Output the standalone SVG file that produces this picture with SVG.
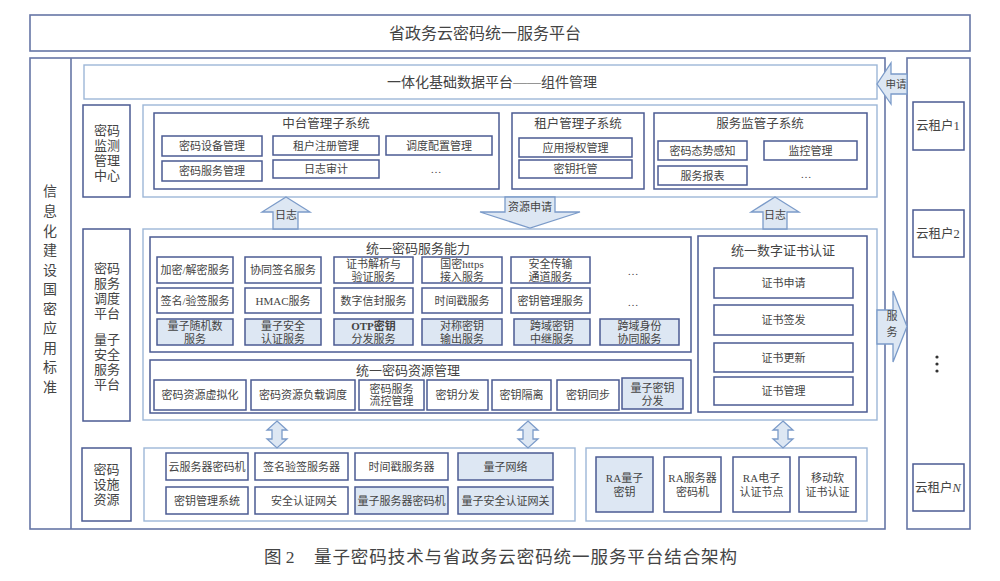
<svg xmlns="http://www.w3.org/2000/svg" width="1000" height="581" viewBox="0 0 1000 581">
<style>
.outer{fill:#fff;stroke:#6676a6;stroke-width:1.6}
.lt{fill:#fff;stroke:#9db7d7;stroke-width:1.4}
.dk{fill:#fff;stroke:#4b5b93;stroke-width:1.5}
.sh{fill:#dde7f3;stroke:#4b5b93;stroke-width:1.5}
.arr{fill:#dde7f3;stroke:#7b9bc9;stroke-width:1.3}
text{font-family:"Liberation Serif","Noto Sans CJK SC",serif;fill:#444;text-anchor:middle;dominant-baseline:central}
.s{font-size:11px}
.m{font-size:12.5px}
.l{font-size:13px}
</style>
<rect width="1000" height="581" fill="#fff"/>

<g id="title"><rect class="outer" x="30" y="15" width="940" height="36"/><text x="485" y="33" style="font-size:16px">省政务云密码统一服务平台</text></g>

<g id="main-frame"><rect class="outer" x="30" y="58" width="855" height="471"/><line x1="71" y1="58" x2="71" y2="529" stroke="#6676a6" stroke-width="1.6"/>
<text x="50" style="font-size:14px"><tspan x="50" y="191">信</tspan><tspan x="50" y="211">息</tspan><tspan x="50" y="231">化</tspan><tspan x="50" y="250">建</tspan><tspan x="50" y="270">设</tspan><tspan x="50" y="289">国</tspan><tspan x="50" y="309">密</tspan><tspan x="50" y="328">应</tspan><tspan x="50" y="348">用</tspan><tspan x="50" y="367">标</tspan><tspan x="50" y="387">准</tspan></text></g>

<g id="tenants"><rect class="outer" x="907" y="58" width="63" height="471"/>
<g id="t1"><rect class="dk" x="913" y="102" width="51" height="48"/><text class="m" x="938" y="126">云租户1</text></g>
<g id="t2"><rect class="dk" x="913" y="210" width="51" height="47"/><text class="m" x="938" y="234">云租户2</text></g>
<g id="tdots"><circle cx="937" cy="357" r="1.6" fill="#333"/><circle cx="937" cy="364" r="1.6" fill="#333"/><circle cx="937" cy="371" r="1.6" fill="#333"/></g>
<g id="tn"><rect class="dk" x="913" y="464" width="51" height="47"/><text class="m" x="938" y="488">云租户<tspan font-style="italic">N</tspan></text></g></g>

<g id="platform"><rect class="lt" x="84" y="65" width="793" height="34"/><text x="492" y="82" style="font-size:14px">一体化基础数据平台——组件管理</text></g>

<g id="mgmt-label"><rect class="dk" x="83" y="105" width="47" height="92"/><text class="l"><tspan x="107" y="130">密码</tspan><tspan x="107" y="145">监测</tspan><tspan x="107" y="160">管理</tspan><tspan x="107" y="175">中心</tspan></text></g>
<g id="mgmt"><rect class="lt" x="143" y="105" width="734" height="92"/>
<g id="zt"><rect class="dk" x="154" y="113" width="345" height="76"/><text class="m" x="326" y="124">中台管理子系统</text>
<rect class="dk" x="162" y="136" width="100" height="20"/><text class="s" x="212" y="146">密码设备管理</text>
<rect class="dk" x="273" y="136" width="106" height="19"/><text class="s" x="326" y="145.5">租户注册管理</text>
<rect class="dk" x="386" y="136" width="106" height="19"/><text class="s" x="439" y="145.5">调度配置管理</text>
<rect class="dk" x="162" y="161" width="100" height="20"/><text class="s" x="212" y="171">密码服务管理</text>
<rect class="dk" x="273" y="160" width="106" height="18"/><text class="s" x="326" y="169">日志审计</text>
<text class="s" x="436" y="169">…</text></g>
<g id="zh"><rect class="dk" x="512" y="113" width="132" height="76"/><text class="m" x="578" y="124">租户管理子系统</text>
<rect class="dk" x="519" y="138" width="113" height="19"/><text class="s" x="575.5" y="147.5">应用授权管理</text>
<rect class="dk" x="519" y="160" width="113" height="18"/><text class="s" x="575.5" y="169">密钥托管</text></g>
<g id="fw"><rect class="dk" x="654" y="113" width="213" height="76"/><text class="m" x="760" y="124">服务监管子系统</text>
<rect class="dk" x="658" y="141" width="89" height="19"/><text class="s" x="702.5" y="150.5">密码态势感知</text>
<rect class="dk" x="764" y="141" width="93" height="19"/><text class="s" x="810.5" y="150.5">监控管理</text>
<rect class="dk" x="658" y="166" width="89" height="19"/><text class="s" x="702.5" y="175.5">服务报表</text>
<text class="s" x="806" y="174">…</text></g></g>

<g id="svc-label"><rect class="dk" x="83" y="229" width="47" height="192"/><text class="l"><tspan x="107" y="268">密码</tspan><tspan x="107" y="283">服务</tspan><tspan x="107" y="298">调度</tspan><tspan x="107" y="313">平台</tspan><tspan x="107" y="339">量子</tspan><tspan x="107" y="354">安全</tspan><tspan x="107" y="369">服务</tspan><tspan x="107" y="384">平台</tspan></text></g>
<g id="svc"><rect class="lt" x="143" y="229" width="734" height="191"/>
<g id="cap"><rect class="dk" x="150" y="237" width="541" height="115"/><text class="l" x="418" y="248">统一密码服务能力</text>
<rect class="dk" x="157" y="257" width="76" height="26"/><text class="s" x="195" y="270">加密/解密服务</text>
<rect class="dk" x="245" y="257" width="76" height="26"/><text class="s" x="283" y="270">协同签名服务</text>
<rect class="dk" x="334" y="257" width="79" height="26"/><text class="s"><tspan x="373.5" y="264">证书解析与</tspan><tspan x="373.5" y="277">验证服务</tspan></text>
<rect class="dk" x="422" y="257" width="80" height="26"/><text class="s"><tspan x="462" y="264">国密https</tspan><tspan x="462" y="277">接入服务</tspan></text>
<rect class="dk" x="511" y="257" width="79" height="26"/><text class="s"><tspan x="550.5" y="264">安全传输</tspan><tspan x="550.5" y="277">通道服务</tspan></text>
<text class="s" x="633" y="271">…</text>
<rect class="dk" x="157" y="288" width="76" height="25"/><text class="s" x="195" y="300.5">签名/验签服务</text>
<rect class="dk" x="245" y="288" width="76" height="25"/><text class="s" x="283" y="300.5">HMAC服务</text>
<rect class="dk" x="334" y="288" width="79" height="25"/><text class="s" x="373.5" y="300.5">数字信封服务</text>
<rect class="dk" x="422" y="288" width="80" height="25"/><text class="s" x="462" y="300.5">时间戳服务</text>
<rect class="dk" x="511" y="288" width="79" height="25"/><text class="s" x="550.5" y="300.5">密钥管理服务</text>
<text class="s" x="633" y="302">…</text>
<rect class="sh" x="157" y="319" width="76" height="26"/><text class="s"><tspan x="195" y="326">量子随机数</tspan><tspan x="195" y="339">服务</tspan></text>
<rect class="sh" x="245" y="319" width="76" height="26"/><text class="s"><tspan x="283" y="326">量子安全</tspan><tspan x="283" y="339">认证服务</tspan></text>
<rect class="sh" x="334" y="319" width="79" height="26"/><text class="s"><tspan x="373.5" y="326" font-weight="bold">OTP密钥</tspan><tspan x="373.5" y="339">分发服务</tspan></text>
<rect class="sh" x="422" y="319" width="80" height="26"/><text class="s"><tspan x="462" y="326">对称密钥</tspan><tspan x="462" y="339">输出服务</tspan></text>
<rect class="sh" x="514" y="319" width="76" height="26"/><text class="s"><tspan x="552" y="326">跨域密钥</tspan><tspan x="552" y="339">中继服务</tspan></text>
<rect class="sh" x="600" y="319" width="79" height="26"/><text class="s"><tspan x="639.5" y="326">跨域身份</tspan><tspan x="639.5" y="339">协同服务</tspan></text></g>
<g id="res"><rect class="dk" x="150" y="360" width="541" height="53"/><text class="l" x="408" y="370">统一密码资源管理</text>
<rect class="dk" x="154" y="380" width="92" height="30"/><text class="s" x="200" y="395">密码资源虚拟化</text>
<rect class="dk" x="251" y="380" width="104" height="30"/><text class="s" x="303" y="395">密码资源负载调度</text>
<rect class="dk" x="359" y="380" width="65" height="30"/><text class="s"><tspan x="391.5" y="389">密码服务</tspan><tspan x="391.5" y="401">流控管理</tspan></text>
<rect class="dk" x="427" y="380" width="61" height="30"/><text class="s" x="457.5" y="395">密钥分发</text>
<rect class="dk" x="492" y="380" width="59" height="30"/><text class="s" x="521.5" y="395">密钥隔离</text>
<rect class="dk" x="557" y="380" width="62" height="30"/><text class="s" x="588" y="395">密钥同步</text>
<rect class="sh" x="622" y="378" width="61" height="31"/><text class="s"><tspan x="652.5" y="387.5">量子密钥</tspan><tspan x="652.5" y="400.5">分发</tspan></text></g>
<g id="cert"><rect class="dk" x="698" y="236" width="169" height="176"/><text class="l" x="783" y="250">统一数字证书认证</text>
<rect class="dk" x="714" y="268" width="139" height="30"/><text class="s" x="783.5" y="283">证书申请</text>
<rect class="dk" x="714" y="305" width="139" height="30"/><text class="s" x="783.5" y="320">证书签发</text>
<rect class="dk" x="714" y="343" width="139" height="29"/><text class="s" x="783.5" y="357.5">证书更新</text>
<rect class="dk" x="714" y="377" width="139" height="28"/><text class="s" x="783.5" y="391">证书管理</text></g></g>

<g id="infra-label"><rect class="dk" x="82" y="448" width="49" height="73"/><text class="l"><tspan x="106.5" y="469">密码</tspan><tspan x="106.5" y="484">设施</tspan><tspan x="106.5" y="499">资源</tspan></text></g>
<g id="infra1"><rect class="lt" x="144" y="448" width="431" height="73"/>
<rect class="dk" x="166" y="453" width="82" height="27"/><text class="s" x="207" y="466.5">云服务器密码机</text>
<rect class="dk" x="255" y="453" width="93" height="27"/><text class="s" x="301.5" y="466.5">签名验签服务器</text>
<rect class="dk" x="355" y="453" width="93" height="27"/><text class="s" x="401.5" y="466.5">时间戳服务器</text>
<rect class="sh" x="458" y="453" width="95" height="27"/><text class="s" x="505.5" y="466.5">量子网络</text>
<rect class="dk" x="166" y="487" width="82" height="27"/><text class="s" x="207" y="500.5">密钥管理系统</text>
<rect class="dk" x="255" y="487" width="93" height="27"/><text class="s" x="304" y="500.5">安全认证网关</text>
<rect class="sh" x="355" y="487" width="93" height="27"/><text class="s" x="401.5" y="500.5">量子服务器密码机</text>
<rect class="sh" x="458" y="487" width="95" height="27"/><text class="s" x="505.5" y="500.5">量子安全认证网关</text></g>
<g id="infra2"><rect class="lt" x="586" y="448" width="281" height="73"/>
<rect class="sh" x="596" y="457" width="57" height="55"/><text class="s"><tspan x="624.5" y="478">RA量子</tspan><tspan x="624.5" y="492">密钥</tspan></text>
<rect class="dk" x="664" y="457" width="57" height="55"/><text class="s"><tspan x="692.5" y="478">RA服务器</tspan><tspan x="692.5" y="492">密码机</tspan></text>
<rect class="dk" x="733" y="457" width="57" height="55"/><text class="s"><tspan x="761.5" y="478">RA电子</tspan><tspan x="761.5" y="492">认证节点</tspan></text>
<rect class="dk" x="799" y="457" width="57" height="55"/><text class="s"><tspan x="827.5" y="478">移动软</tspan><tspan x="827.5" y="492">证书认证</tspan></text></g>

<g id="connectors">
<path class="arr" d="M877,84 L891,63 L891,74 L907,74 L907,94 L891,94 L891,104 Z"/><text x="896" y="84" style="font-size:10.5px">申请</text>
<path class="arr" d="M286,197 L310,212 L298,212 L298,229 L273,229 L273,212 L262,212 Z"/><text class="s" x="286" y="215">日志</text>
<path class="arr" d="M775,197 L799,212 L787,212 L787,229 L763,229 L763,212 L751,212 Z"/><text class="s" x="775" y="215">日志</text>
<path class="arr" d="M505,197 L555,197 L555,212 L580,212 L530,228 L480,212 L505,212 Z"/><text class="s" x="530" y="207">资源申请</text>
<path class="arr" d="M877,310 L893,310 L893,291 L907,326.5 L893,362 L893,344 L877,344 Z"/><text class="s"><tspan x="892" y="316">服</tspan><tspan x="892" y="332">务</tspan></text>
<path class="arr" d="M277,421 L287,430 L282,430 L282,439 L287,439 L277,448 L267,439 L272,439 L272,430 L267,430 Z"/>
<path class="arr" d="M528,421 L538,430 L533,430 L533,439 L538,439 L528,448 L518,439 L523,439 L523,430 L518,430 Z"/>
<path class="arr" d="M783,421 L793,430 L788,430 L788,439 L793,439 L783,448 L773,439 L778,439 L778,430 L773,430 Z"/>
</g>

<g id="caption"><text x="264" y="557" style="font-size:17.5px;text-anchor:start">图 2</text><text x="314" y="557" style="font-size:17.5px;text-anchor:start" textLength="423" lengthAdjust="spacing">量子密码技术与省政务云密码统一服务平台结合架构</text></g>
</svg>
